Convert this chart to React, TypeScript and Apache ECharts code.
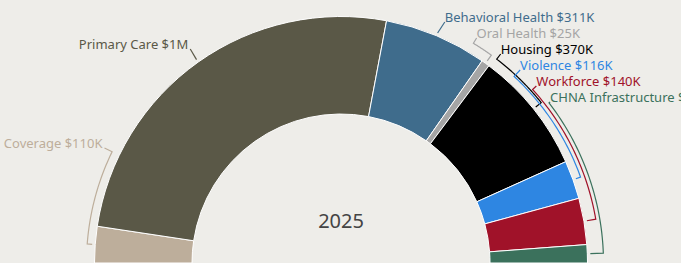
import React, { useEffect, useRef } from "react";
import * as echarts from "echarts";

// ---- data ----
const categories = [
  "Coverage",
  "Primary Care",
  "Behavioral Health",
  "Oral Health",
  "Housing",
  "Violence",
  "Workforce",
  "CHNA Infrastructure",
];
const values = [110, 1180, 311, 25, 370, 116, 140, 55]; // $K
const colors = [
  "#bdae9b",
  "#5a5847",
  "#3f6c8c",
  "#a5a5a5",
  "#000000",
  "#2e86e2",
  "#a01229",
  "#3b715c",
];
const centerTitle = "2025";

// ---- layout (not data) ----
const W = 681;
const H = 263;
const CX = 341;
const CY = 263;
const R_IN = 149;
const R_OUT = 246.5;
const R_LABEL = 267;
const R_TICK = 249.5;
const LABEL_Y = [143, 44, 17, 33, 49, 65, 81, 97];
const BRACKET_R = [254.5, 0, 0, 256.5, 256.5, 254.5, 258.5, 262.5];
const FONT = "'Noto Sans', 'Open Sans', sans-serif";

function fmt(v: number): string {
  if (v >= 1000) return "$" + Math.round(v / 1000) + "M";
  return "$" + v + "K";
}

function pt(r: number, degLeft: number): [number, number] {
  // angle measured clockwise from the left horizontal (0 = left, 180 = right)
  const a = ((180 - degLeft) * Math.PI) / 180;
  return [CX + r * Math.cos(a), CY - r * Math.sin(a)];
}

function buildGraphics() {
  const total = values.reduce((a, b) => a + b, 0);
  const els: any[] = [];
  let cum = 0;
  values.forEach((v, i) => {
    const start = (cum / total) * 180;
    cum += v;
    const end = (cum / total) * 180;
    const mid = (start + end) / 2;
    const y = LABEL_Y[i];
    const dy = CY - y;
    const dx = Math.sqrt(Math.max(0, R_LABEL * R_LABEL - dy * dy));
    const right = mid > 90;
    const lx = right ? CX + dx : CX - dx;
    const color = colors[i];
    els.push({
      type: "text",
      x: lx,
      y: y,
      silent: true,
      style: {
        text: categories[i] + " " + fmt(v),
        fill: color,
        font: `13px ${FONT}`,
        textAlign: right ? "left" : "right",
        textVerticalAlign: "middle",
      },
    });
    // leader line
    const sx = right ? lx : lx + 2;
    const sy = y + 5;
    const sa = (Math.atan2(CY - sy, sx - CX) * 180) / Math.PI; // from right, ccw
    const labelAng = 180 - sa; // from left, clockwise
    const pts: number[][] = [[sx, sy]];
    if (Math.abs(labelAng - mid) < 3 || !BRACKET_R[i]) {
      pts.push(pt(R_TICK, mid));
    } else {
      const rb = BRACKET_R[i];
      const n = 40;
      for (let k = 0; k <= n; k++) {
        const a = labelAng + ((mid - labelAng) * k) / n;
        pts.push(pt(rb, a));
      }
      pts.push(pt(R_TICK, mid));
    }
    els.push({
      type: "polyline",
      silent: true,
      shape: { points: pts },
      style: { stroke: color, lineWidth: 1.2, fill: "none" },
    });
  });
  els.push({
    type: "text",
    x: CX,
    y: 220,
    silent: true,
    style: {
      text: centerTitle,
      fill: "#444444",
      font: `20px ${FONT}`,
      textAlign: "center",
      textVerticalAlign: "middle",
    },
  });
  return els;
}

export default function App() {
  const ref = useRef<HTMLDivElement>(null);
  useEffect(() => {
    if (!ref.current) return;
    const chart = echarts.init(ref.current, undefined, { renderer: "svg" });
    chart.setOption({
      animation: false,
      backgroundColor: "#eeede9",
      series: [
        {
          type: "pie",
          center: [CX, CY],
          radius: [R_IN, R_OUT],
          startAngle: 180,
          endAngle: 0,
          clockwise: true,
          silent: true,
          label: { show: false },
          labelLine: { show: false },
          itemStyle: { borderColor: "#ffffff", borderWidth: 1 },
          data: categories.map((c, i) => ({
            name: c,
            value: values[i],
            itemStyle: { color: colors[i] },
          })),
        },
      ],
      graphic: buildGraphics(),
    });
    return () => chart.dispose();
  }, []);
  return (
    <div
      ref={ref}
      style={{ position: "fixed", left: 0, top: 0, width: W, height: H }}
    />
  );
}
